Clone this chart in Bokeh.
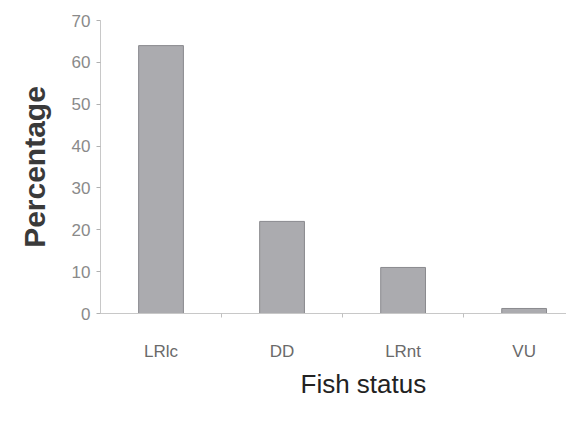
from bokeh.plotting import figure
from bokeh.models import Range1d, FixedTicker, ColumnDataSource, Title
from bokeh.embed import file_html
from bokeh.resources import INLINE

categories = ["LRlc", "DD", "LRnt", "VU"]
percentages = [64, 22, 11, 1.2]
y_ticks = [0, 10, 20, 30, 40, 50, 60, 70]

xs = [i + 0.5 for i in range(len(categories))]
src = ColumnDataSource(dict(x=xs, top=percentages, cat=categories))

p = figure(width=566, height=411, output_backend="svg", toolbar_location=None,
           x_range=Range1d(0, 3.85), y_range=Range1d(0, 70),
           min_border_left=100, min_border_top=20, min_border_bottom=98, min_border_right=0)
p.outline_line_color = None
p.grid.visible = False
p.background_fill_color = "white"

p.vbar(x="x", top="top", width=0.37, bottom=0, source=src,
       fill_color="#ababaf", line_color="#8a8a8e", line_width=1)

# x axis
p.xaxis.ticker = FixedTicker(ticks=xs, minor_ticks=[1, 2, 3])
p.xaxis.major_label_overrides = {x: c for x, c in zip(xs, categories)}
p.xaxis.major_tick_line_color = None
p.xaxis.minor_tick_line_color = "#c0c0c0"
p.xaxis.minor_tick_out = 4
p.xaxis.minor_tick_in = 0
p.xaxis.axis_line_color = "#c8c8c8"
p.xaxis.major_label_text_font = "Liberation Sans"
p.xaxis.major_label_text_font_size = "17px"
p.xaxis.major_label_text_color = "#6a6a6a"
p.xaxis.major_label_standoff = 22

# x axis title, set right of centre as in the reference
p.add_layout(Title(text="Fish status", align="left", offset=200, standoff=6,
                   text_font="Liberation Sans", text_font_size="26px",
                   text_font_style="normal", text_color="#222222"), "below")

# y axis
p.yaxis.ticker = FixedTicker(ticks=y_ticks)
p.yaxis.minor_tick_line_color = None
p.yaxis.major_tick_line_color = "#b0b0b0"
p.yaxis.major_tick_out = 4
p.yaxis.major_tick_in = 0
p.yaxis.axis_line_color = "#c8c8c8"
p.yaxis.major_label_text_font = "Liberation Sans"
p.yaxis.major_label_text_font_size = "17px"
p.yaxis.major_label_text_color = "#8a8a8a"
p.yaxis.major_label_standoff = 6
p.yaxis.axis_label = "Percentage"
p.yaxis.axis_label_text_font = "Liberation Sans"
p.yaxis.axis_label_text_font_style = "bold"
p.yaxis.axis_label_text_font_size = "30px"
p.yaxis.axis_label_text_color = "#3a3a3a"
p.yaxis.axis_label_standoff = 18

open("out.html", "w").write(file_html(p, INLINE))
